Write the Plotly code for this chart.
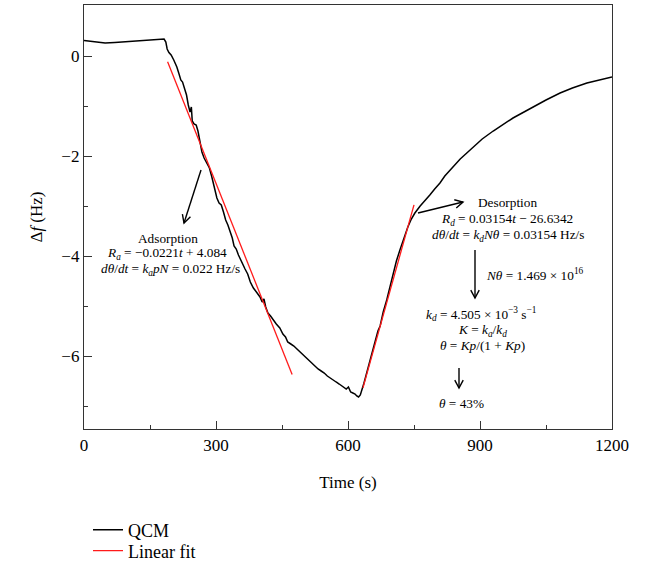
import math
import plotly.graph_objects as go

# ---------------- data ----------------
qcm_t = [0, 15, 30, 48, 70, 90, 110, 127, 145, 165, 182, 186, 189, 193, 198, 204, 211, 216, 220, 224,
         229, 233, 237, 241, 244, 246, 250, 255, 259, 263, 268, 273, 279, 285, 290, 296, 302, 307, 312,
         317, 322, 327, 332, 337, 341, 346, 351, 356, 361, 366, 372, 378, 385, 390, 395, 400, 405, 409,
         413, 418, 424, 430, 437, 445, 452, 458, 463, 470, 477, 484, 491, 498, 505, 512, 519, 526, 532,
         539, 546, 553, 559, 566, 573, 580, 586, 591, 596, 601, 606, 611, 616, 620, 624, 628, 632, 636,
         640, 645, 650, 656, 662, 668, 673, 680, 688, 695, 703, 710, 718, 727, 736, 744, 752, 764, 775,
         786, 797, 809, 820, 832, 845, 855, 870, 884, 905, 930, 950, 975, 1000, 1020, 1050, 1082, 1110,
         1143, 1170, 1200]
qcm_df = [0.31, 0.29, 0.27, 0.26, 0.27, 0.28, 0.29, 0.30, 0.31, 0.33, 0.34, 0.28, 0.14, 0.07, 0.02, -0.08,
          -0.22, -0.36, -0.48, -0.52, -0.68, -0.78, -0.98, -1.12, -1.02, -1.30, -1.36, -1.38, -1.50, -1.68,
          -1.92, -2.04, -2.14, -2.24, -2.40, -2.60, -2.84, -2.94, -2.98, -3.12, -3.28, -3.38, -3.50, -3.64,
          -3.80, -3.86, -3.98, -4.08, -4.16, -4.26, -4.36, -4.52, -4.64, -4.70, -4.78, -4.82, -4.92, -4.86,
          -5.02, -5.14, -5.20, -5.28, -5.36, -5.44, -5.56, -5.62, -5.72, -5.76, -5.80, -5.86, -5.92, -5.96,
          -6.04, -6.10, -6.14, -6.20, -6.26, -6.30, -6.34, -6.40, -6.44, -6.48, -6.52, -6.56, -6.60, -6.64,
          -6.66, -6.62, -6.72, -6.74, -6.76, -6.80, -6.82, -6.78, -6.68, -6.55, -6.42, -6.26, -6.06, -5.86,
          -5.66, -5.50, -5.40, -5.12, -4.88, -4.62, -4.34, -4.10, -3.88, -3.64, -3.42, -3.26, -3.14, -3.00,
          -2.90, -2.78, -2.66, -2.54, -2.40, -2.28, -2.16, -2.06, -1.94, -1.82, -1.66, -1.50, -1.38, -1.24,
          -1.12, -1.02, -0.88, -0.74, -0.64, -0.54, -0.48, -0.42]

fit_ads_t = [190, 473]
fit_ads_df = [-0.115, -6.369]
fit_des_t = [634, 750]
fit_des_df = [-6.638, -2.979]

x_ticks = [0, 300, 600, 900, 1200]
y_ticks = [0, -2, -4, -6]

SERIF = "Liberation Serif"

# ---------------- layout geometry (pixels) ----------------
L, R, T, B = 84, 612, 5, 429
W, H = 648, 563


def pp(px, py):
    return (px - L) / (R - L), (B - py) / (B - T)


fig = go.Figure()
fig.add_trace(go.Scatter(x=qcm_t, y=qcm_df, mode="lines", name="QCM", legend="legend",
                         line=dict(color="black", width=1.5)))
fig.add_trace(go.Scatter(x=fit_ads_t, y=fit_ads_df, mode="lines", name="Linear fit", legend="legend2",
                         line=dict(color="#ff1a1a", width=1.3)))
fig.add_trace(go.Scatter(x=fit_des_t, y=fit_des_df, mode="lines", name="Linear fit", legend="legend2",
                         showlegend=False, line=dict(color="#ff1a1a", width=1.3)))

shapes = []


def arrow(tail, tip, arm=9, ang=28):
    x0, y0 = pp(*tail)
    x1, y1 = pp(*tip)
    shapes.append(dict(type="line", xref="paper", yref="paper", x0=x0, y0=y0, x1=x1, y1=y1,
                       line=dict(color="black", width=1.4)))
    dx, dy = tail[0] - tip[0], tail[1] - tip[1]
    n = math.hypot(dx, dy)
    ux, uy = dx / n, dy / n
    pts = []
    for s in (1, -1):
        a = math.radians(ang) * s
        vx = ux * math.cos(a) - uy * math.sin(a)
        vy = ux * math.sin(a) + uy * math.cos(a)
        pts.append(pp(tip[0] + arm * vx, tip[1] + arm * vy))
    path = "M {:.5f},{:.5f} L {:.5f},{:.5f} L {:.5f},{:.5f}".format(
        pts[0][0], pts[0][1], x1, y1, pts[1][0], pts[1][1])
    shapes.append(dict(type="path", xref="paper", yref="paper", path=path,
                       line=dict(color="black", width=1.4)))


arrow((201, 170), (184, 223))
arrow((418, 213), (463, 202))
arrow((475, 250), (475, 298))
arrow((459, 368), (459, 388))

texts = [
    ("Adsorption", 168, 238),
    ("<i>R<sub>a</sub></i> = −0.0221<i>t</i> + 4.084", 167, 253),
    ("<i>dθ</i>/<i>dt</i> = <i>k<sub>a</sub>pN</i> = 0.022 Hz/s", 170, 269),
    ("Desorption", 507, 202),
    ("<i>R<sub>d</sub></i> = 0.03154<i>t</i> − 26.6342", 507, 219),
    ("<i>dθ</i>/<i>dt</i> = <i>k<sub>d</sub>Nθ</i> = 0.03154 Hz/s", 508, 236),
    ("<i>Nθ</i> = 1.469 × 10<sup>16</sup>", 535, 274),
    ("<i>k<sub>d</sub></i> = 4.505 × 10<sup>−3</sup> s<sup>−1</sup>", 481, 314),
    ("<i>K</i> = <i>k<sub>a</sub></i>/<i>k<sub>d</sub></i>", 482, 330),
    ("<i>θ</i> = <i>Kp</i>/(1 + <i>Kp</i>)", 482, 345),
    ("<i>θ</i> = 43%", 461, 403),
]
annotations = []
for txt, px, py in texts:
    x, y = pp(px, py)
    annotations.append(dict(text=txt, x=x, y=y, xref="paper", yref="paper", showarrow=False,
                            xanchor="center", yanchor="middle",
                            font=dict(family=SERIF, size=13.3, color="black")))

axis_common = dict(showline=True, linecolor="#333333", linewidth=1.3, mirror=True,
                   ticks="inside", ticklen=8, tickwidth=1.3, tickcolor="#333333",
                   showgrid=False, zeroline=False, automargin=False,
                   tickfont=dict(family=SERIF, size=17, color="black"))

legend_common = dict(xanchor="left", yanchor="middle", orientation="v",
                     font=dict(family=SERIF, size=18), bgcolor="rgba(0,0,0,0)", itemwidth=30)
lx = pp(88, 0)[0]

fig.update_layout(
    width=W, height=H,
    margin=dict(l=L, r=W - R, t=T, b=H - B, autoexpand=False),
    paper_bgcolor="white", plot_bgcolor="white",
    font=dict(family=SERIF, color="black"),
    xaxis=dict(range=[0, 1200], tickvals=x_ticks,
               minor=dict(dtick=150, ticks="inside", ticklen=4, tickwidth=1.3, tickcolor="#333333"),
               title=dict(text="Time (s)", font=dict(family=SERIF, size=17), standoff=22),
               **axis_common),
    yaxis=dict(range=[-7.46, 1.02], tickvals=y_ticks,
               minor=dict(dtick=1, ticks="inside", ticklen=4, tickwidth=1.3, tickcolor="#333333"),
               title=dict(text="Δ<i>f</i> (Hz)", font=dict(family=SERIF, size=17), standoff=14),
               **axis_common),
    showlegend=True,
    legend=dict(x=lx, y=pp(0, 530)[1], **legend_common),
    legend2=dict(x=lx, y=pp(0, 551)[1], **legend_common),
    shapes=shapes,
    annotations=annotations,
)

fig.write_html("out.html", config={"displayModeBar": False},
               post_script="document.body.style.margin='0';document.body.style.padding='0';")
